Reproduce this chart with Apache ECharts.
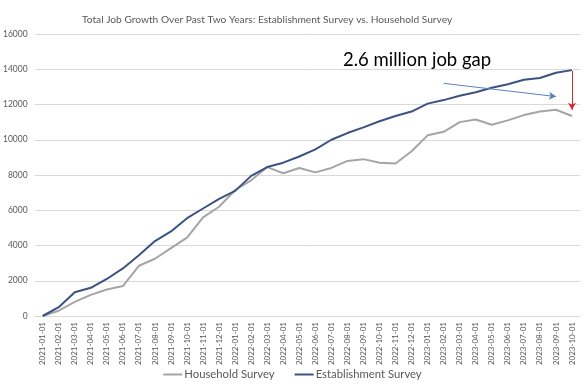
<!DOCTYPE html>
<html><head><meta charset="utf-8">
<script src="https://cdn.jsdelivr.net/npm/echarts@6/dist/echarts.min.js"></script>
<style>html,body{margin:0;padding:0;background:#fff}#c{width:585px;height:390px}</style>
</head><body><div id="c"></div>
<script>
const categories = ['2021-01-01','2021-02-01','2021-03-01','2021-04-01','2021-05-01','2021-06-01','2021-07-01','2021-08-01','2021-09-01','2021-10-01','2021-11-01','2021-12-01','2022-01-01','2022-02-01','2022-03-01','2022-04-01','2022-05-01','2022-06-01','2022-07-01','2022-08-01','2022-09-01','2022-10-01','2022-11-01','2022-12-01','2023-01-01','2023-02-01','2023-03-01','2023-04-01','2023-05-01','2023-06-01','2023-07-01','2023-08-01','2023-09-01','2023-10-01'];
const household = [0,300,800,1200,1500,1700,2850,3250,3850,4450,5600,6200,7150,7700,8450,8100,8400,8150,8400,8800,8900,8700,8650,9350,10250,10450,11000,11150,10850,11100,11400,11600,11700,11350];
const establishment = [0,500,1350,1600,2100,2700,3450,4250,4800,5550,6100,6650,7100,7950,8450,8700,9050,9450,10000,10380,10700,11050,11350,11600,12050,12250,12500,12700,12950,13150,13400,13500,13800,13950];
const yTicks = [0,2000,4000,6000,8000,10000,12000,14000,16000];
const titleText = 'Total Job Growth Over Past Two Years: Establishment Survey vs. Household Survey';
const noteText = '2.6 million job gap';
const gapArrow = {from:['2023-10-01',13900], to:['2023-10-01',11700]};
const trendArrow = {from:['2023-02-01',13200], to:['2023-09-01',12450]};

const FONT = 'Lato';
const chart = echarts.init(document.getElementById('c'), null, {renderer:'canvas'});
chart.setOption({
  animation:false,
  textStyle:{fontFamily:FONT},
  title:{text:titleText,left:77,top:10,textStyle:{fontFamily:FONT,fontSize:10.2,fontWeight:'normal',color:'#595959'}},
  grid:{left:25,right:5,top:34,bottom:74,containLabel:false},
  legend:{bottom:5,left:'center',icon:'rect',itemWidth:19,itemHeight:2,itemGap:20,itemStyle:{},
    textStyle:{fontFamily:FONT,fontSize:11.3,color:'#595959',padding:[0,0,0,-3]},
    data:['Household Survey','Establishment Survey']},
  xAxis:{type:'category',data:categories,boundaryGap:true,
    axisLine:{show:true,lineStyle:{color:'#d9d9d9'}},axisTick:{show:false},
    axisLabel:{rotate:90,interval:0,fontSize:8,color:'#595959',margin:6,fontFamily:FONT}},
  yAxis:{type:'value',min:yTicks[0],max:yTicks[yTicks.length-1],interval:2000,
    axisLine:{show:false},axisTick:{show:false},
    axisLabel:{fontSize:8.5,color:'#595959',margin:7,fontFamily:FONT,formatter:v=>String(v)},
    splitLine:{lineStyle:{color:'#d9d9d9'}}},
  series:[
    {name:'Household Survey',type:'line',data:household,symbol:'none',
      lineStyle:{color:'#a5a5a5',width:2},itemStyle:{color:'#a5a5a5'}},
    {name:'Establishment Survey',type:'line',data:establishment,symbol:'none',z:3,
      lineStyle:{color:'#3b5282',width:2},itemStyle:{color:'#3b5282'},
      markLine:{silent:true,symbol:['none','arrow'],symbolSize:[6,7],label:{show:false},
        data:[
          [{coord:gapArrow.from,lineStyle:{color:'#d9262c',width:1,type:'solid'},symbolSize:7},{coord:gapArrow.to}],
          [{coord:trendArrow.from,lineStyle:{color:'#5b7fbf',width:1,type:'solid'}},{coord:trendArrow.to}]
        ]}}
  ],
  graphic:[{type:'text',left:343,top:51,style:{text:noteText,fontFamily:FONT,fontSize:18.5,fill:'#000'}}]
});
</script></body></html>
